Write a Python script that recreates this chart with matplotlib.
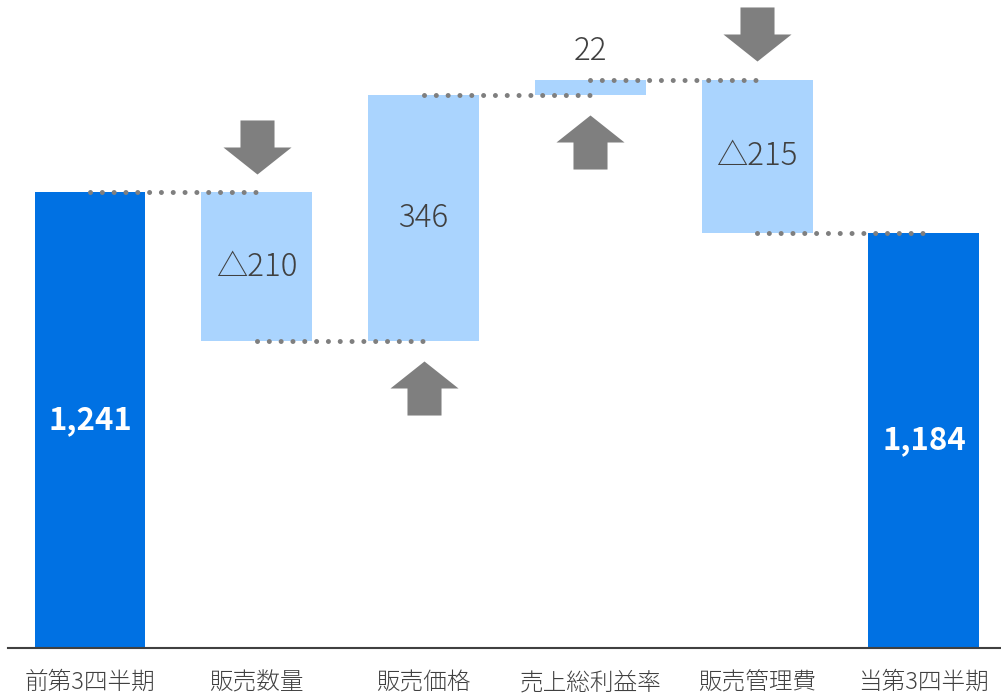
import numpy as np
import matplotlib
matplotlib.use('Agg')
import matplotlib.pyplot as plt
from matplotlib.path import Path

plt.rcParams['font.family'] = ['Noto Sans CJK JP', 'DejaVu Sans']
plt.rcParams['lines.scale_dashes'] = False

# data
categories = ['前第3四半期', '販売数量', '販売価格', '売上総利益率', '販売管理費', '当第3四半期']
start_value = 1241
changes = [-210, 346, 22, -215]
end_value = 1184

dark_blue = '#0071E3'
light_blue = '#AAD4FE'
gray = '#7F7F7F'
text_color = '#404040'

# block arrow marker (pointing up)
arrow_up = Path([(-17, -27), (17, -27), (17, 0), (34, 0), (0, 27),
                 (-34, 0), (-17, 0), (-17, -27)], closed=True)
arrow_down = Path([(x, -y) for x, y in arrow_up.vertices], closed=True)

fig = plt.figure(figsize=(10.01, 6.95), dpi=100)
ax = fig.add_axes([8 / 1001, 47 / 695, 993 / 1001, 648 / 695])

x = np.arange(len(categories))
width = 0.665

# running totals
levels = [start_value]
for c in changes:
    levels.append(levels[-1] + c)

ax.bar(x[0], start_value, width=width, color=dark_blue, zorder=2)
ax.bar(x[-1], end_value, width=width, color=dark_blue, zorder=2)
ax.text(x[0], (start_value + 600) / 2, f'{start_value:,}', ha='center', va='center',
        color='white', fontsize=22.5, fontweight='bold')
ax.text(x[-1], (end_value + 600) / 2, f'{end_value:,}', ha='center', va='center',
        color='white', fontsize=22.5, fontweight='bold')

for i, c in enumerate(changes):
    xi = x[i + 1]
    lo = min(levels[i], levels[i + 1])
    hi = max(levels[i], levels[i + 1])
    ax.bar(xi, hi - lo, bottom=lo, width=width, color=light_blue, zorder=2)
    label = f'{c}' if c > 0 else f'△{-c}'
    if hi - lo > 60:
        ax.text(xi, (lo + hi) / 2, label, ha='center', va='center',
                color=text_color, fontsize=22.5, fontweight='light')
    else:
        ax.annotate(label, (xi, hi), xytext=(0, 9), textcoords='offset points',
                    ha='center', va='bottom', color=text_color, fontsize=22.5,
                    fontweight='light')
    # arrow markers
    if c < 0:
        ax.plot(xi, hi + 64, marker=arrow_down, markersize=49, color=gray,
                markeredgewidth=0, zorder=3)
    else:
        ax.plot(xi, lo - 65, marker=arrow_up, markersize=49, color=gray,
                markeredgewidth=0, zorder=3)

# dotted connectors between bars
levels.append(end_value)
for i in range(len(categories) - 1):
    ax.plot([x[i], x[i + 1]], [levels[i], levels[i]], color=gray, linewidth=3.6,
            linestyle=(0, (0.01, 8.5)), dash_capstyle='round', zorder=4)

ax.set_xlim(-0.4916, 5.462)
ax.set_ylim(600, 1511)
ax.set_xticks(x)
ax.set_xticklabels(categories, fontsize=17, color=text_color, fontweight='light')
ax.tick_params(axis='x', length=0, pad=16)
ax.set_yticks([])
for s in ['top', 'right', 'left']:
    ax.spines[s].set_visible(False)
ax.spines['bottom'].set_color('#404040')
ax.spines['bottom'].set_linewidth(1.5)
ax.spines['bottom'].set_zorder(5)

plt.savefig('out.png', dpi=100)
